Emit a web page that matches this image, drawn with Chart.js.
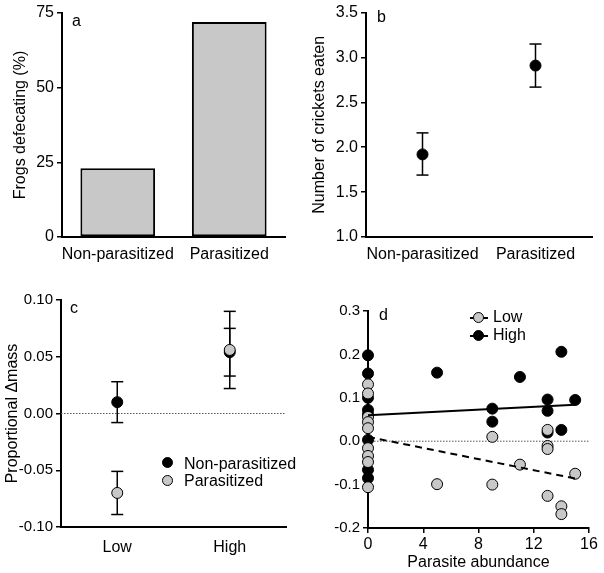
<!DOCTYPE html>
<html>
<head>
<meta charset="utf-8">
<script src="https://cdn.jsdelivr.net/npm/chart.js@4.4.0/dist/chart.umd.min.js"></script>
<style>
  body { margin: 0; background: #fff; font-family: 'Liberation Sans', Arial, sans-serif; }
  #wrap { position: relative; width: 604px; height: 573px; overflow: hidden; }
  .panel { position: absolute; }
  .txt { position: absolute; font-size: 16px; line-height: 16px; color: #000; white-space: nowrap; }
  .dot { position: absolute; width: 11px; height: 11px; border-radius: 50%; box-sizing: border-box; border: 1px solid #000; }
  .dot.black { background: #000; }
  .dot.grey { background: #c8c8c8; }
  .ln { position: absolute; height: 2px; background: #000; }
</style>
</head>
<body>
<div id="wrap">
  <div class="panel" style="left:0;top:0;width:302px;height:280px"><canvas id="chartA"></canvas></div>
  <div class="panel" style="left:302px;top:0;width:302px;height:280px"><canvas id="chartB"></canvas></div>
  <div class="panel" style="left:0;top:280px;width:302px;height:293px"><canvas id="chartC"></canvas></div>
  <div class="panel" style="left:302px;top:280px;width:302px;height:293px"><canvas id="chartD"></canvas></div>

  <div class="txt" style="left:72px;top:13px">a</div>
  <div class="txt" style="left:377px;top:9px">b</div>
  <div class="txt" style="left:70px;top:300px">c</div>
  <div class="txt" style="left:379px;top:307px">d</div>

  <!-- legend c -->
  <div class="dot black" style="left:162px;top:457px"></div>
  <div class="txt" style="left:184px;top:456px">Non-parasitized</div>
  <div class="dot grey" style="left:162px;top:475px"></div>
  <div class="txt" style="left:184px;top:473px">Parasitized</div>

  <!-- legend d -->
  <div class="ln" style="left:470px;top:317px;width:18px"></div>
  <div class="dot grey" style="left:473px;top:312px"></div>
  <div class="txt" style="left:493px;top:309px">Low</div>
  <div class="ln" style="left:470px;top:335px;width:18px"></div>
  <div class="dot black" style="left:473px;top:330px"></div>
  <div class="txt" style="left:493px;top:327px">High</div>
</div>

<script>
"use strict";

// panel a
const groupLabels = ["Non-parasitized", "Parasitized"];
const defecatingPct = [23, 72];

// panel b
const cricketsMean = [1.92, 2.91];
const cricketsLo = [1.69, 2.67];
const cricketsHi = [2.16, 3.15];

// panel c
const densityLabels = ["Low", "High"];
const massNonPar = [0.010, 0.054];
const massNonParLo = [-0.008, 0.033];
const massNonParHi = [0.028, 0.075];
const massPar = [-0.070, 0.056];
const massParLo = [-0.089, 0.022];
const massParHi = [-0.051, 0.090];

// panel d
const lowAbund = [0, 0, 0, 0, 0, 0, 0, 0, 0, 5, 9, 9, 11, 13, 13, 13, 13, 14, 14, 15];
const lowMass = [0.131, 0.110, 0.056, 0.044, 0.030, -0.016, -0.034, -0.048, -0.106,
                 -0.099, 0.010, -0.100, -0.054, 0.026, -0.011, -0.018, -0.126, -0.150, -0.168, -0.075];
const highAbund = [0, 0, 0, 0, 0, 0, 0, 0, 5, 9, 9, 11, 13, 13, 13, 14, 14, 15];
const highMass = [0.198, 0.156, 0.100, 0.072, 0.062, 0.003, -0.066, -0.085,
                  0.158, 0.075, 0.045, 0.148, 0.096, 0.070, 0.020, 0.206, 0.026, 0.095];
const fitX = [0, 15];
const lowFitY = [0.010, -0.086];
const highFitY = [0.060, 0.084];

const FONT = "'Liberation Sans', Arial, sans-serif";
const GREY = "#c8c8c8";
Chart.defaults.font.family = FONT;
Chart.defaults.color = "#000";

const zeroLine = {
  id: "zeroLine",
  beforeDatasetsDraw(chart) {
    const y = chart.scales.y.getPixelForValue(0);
    const area = chart.chartArea;
    const ctx = chart.ctx;
    ctx.save();
    ctx.strokeStyle = "#555";
    ctx.lineWidth = 1;
    ctx.setLineDash([1.5, 1.5]);
    ctx.beginPath();
    ctx.moveTo(area.left, y);
    ctx.lineTo(area.right, y);
    ctx.stroke();
    ctx.restore();
  }
};

function yAxis(opts) {
  return {
    min: opts.min, max: opts.max,
    ticks: { stepSize: opts.step, color: "#000", font: { size: opts.fontSize || 16 }, padding: 3,
             callback: opts.fmt },
    grid: { display: true, drawOnChartArea: false, drawTicks: true, tickLength: 5, color: "#000", lineWidth: 1.5 },
    border: { display: true, color: "#000", width: 2 },
    title: { display: !!opts.title, text: opts.title || "", color: "#000", font: { size: 16 }, padding: 0 },
    afterFit: (s) => { s.width = opts.width; }
  };
}

function catAxis(labels, height, pad) {
  return {
    type: "category", labels: labels, offset: true,
    ticks: { color: "#000", font: { size: 16 }, padding: pad, maxRotation: 0, autoSkip: false },
    grid: { display: false },
    border: { display: true, color: "#000", width: 2 },
    afterFit: (s) => { s.height = height; }
  };
}

function errBar(x, lo, hi) {
  return {
    type: "line",
    data: [{ x: x, y: lo }, { x: x, y: hi }],
    borderColor: "#000", borderWidth: 1.5,
    pointStyle: "line", pointRadius: 6, pointBorderColor: "#000", pointBorderWidth: 1.5,
    clip: false, order: 5
  };
}

const common = {
  responsive: true, maintainAspectRatio: false, animation: false, events: [],
  plugins: { legend: { display: false }, tooltip: { enabled: false } }
};

// a
new Chart(document.getElementById("chartA"), {
  type: "bar",
  data: {
    labels: groupLabels,
    datasets: [{
      data: defecatingPct,
      backgroundColor: GREY, borderColor: "#000", borderWidth: 2, borderSkipped: false,
      barPercentage: 0.67, categoryPercentage: 1
    }]
  },
  options: Object.assign({}, common, {
    layout: { padding: { left: 11, top: 13, right: 17, bottom: 0 } },
    scales: {
      x: catAxis(groupLabels, 43, 0),
      y: yAxis({ min: 0, max: 75, step: 25, title: "Frogs defecating (%)", width: 51 })
    }
  })
});

// b
new Chart(document.getElementById("chartB"), {
  type: "line",
  data: {
    labels: groupLabels,
    datasets: [
      { data: cricketsMean, showLine: false, pointRadius: 5.5, pointBackgroundColor: "#000",
        pointBorderColor: "#000", pointBorderWidth: 1, clip: false, order: 1 }
    ].concat(groupLabels.map((g, i) => errBar(g, cricketsLo[i], cricketsHi[i])))
  },
  options: Object.assign({}, common, {
    layout: { padding: { left: 8, top: 12, right: 12, bottom: 0 } },
    scales: {
      x: catAxis(groupLabels, 43, 0),
      y: yAxis({ min: 1, max: 3.5, step: 0.5, title: "Number of crickets eaten", width: 56,
                 fmt: (v) => v.toFixed(1) })
    }
  })
});

// c
new Chart(document.getElementById("chartC"), {
  type: "line",
  data: {
    labels: densityLabels,
    datasets: [
      { data: massPar, showLine: false, pointRadius: 5.5, pointBackgroundColor: GREY,
        pointBorderColor: "#000", pointBorderWidth: 1, clip: false, order: 1 },
      { data: massNonPar, showLine: false, pointRadius: 5.5, pointBackgroundColor: "#000",
        pointBorderColor: "#000", pointBorderWidth: 1, clip: false, order: 2 }
    ].concat(densityLabels.map((g, i) => errBar(g, massNonParLo[i], massNonParHi[i])))
     .concat(densityLabels.map((g, i) => errBar(g, massParLo[i], massParHi[i])))
  },
  options: Object.assign({}, common, {
    layout: { padding: { left: 3, top: 20, right: 16, bottom: 0 } },
    scales: {
      x: catAxis(densityLabels, 46, 3),
      y: yAxis({ min: -0.1, max: 0.1, step: 0.05, title: "Proportional \u0394mass", width: 58, fontSize: 15,
                 fmt: (v) => { const r = Math.round(v * 100) / 100; return (r === 0 ? 0 : r).toFixed(2); } })
    }
  }),
  plugins: [zeroLine]
});

// d
const toPts = (xs, ys) => xs.map((x, i) => ({ x: x, y: ys[i] }));
new Chart(document.getElementById("chartD"), {
  type: "scatter",
  data: {
    datasets: [
      { type: "line", data: toPts(fitX, highFitY), borderColor: "#000", borderWidth: 2,
        pointRadius: 0, clip: false, order: 1 },
      { type: "line", data: toPts(fitX, lowFitY), borderColor: "#000", borderWidth: 2,
        borderDash: [7, 5], pointRadius: 0, clip: false, order: 2 },
      { data: toPts(lowAbund, lowMass), pointRadius: 5.5, pointBackgroundColor: GREY,
        pointBorderColor: "#000", pointBorderWidth: 1, clip: false, order: 3 },
      { data: toPts(highAbund, highMass), pointRadius: 5.5, pointBackgroundColor: "#000",
        pointBorderColor: "#000", pointBorderWidth: 1, clip: false, order: 4 }
    ]
  },
  options: Object.assign({}, common, {
    layout: { padding: { left: 0, top: 31, right: 15, bottom: 0 } },
    scales: {
      x: {
        type: "linear", min: 0, max: 16,
        ticks: { stepSize: 4, color: "#000", font: { size: 16 }, padding: 2, maxRotation: 0 },
        grid: { display: true, drawOnChartArea: false, drawTicks: true, tickLength: 5, color: "#000", lineWidth: 1.5 },
        border: { display: true, color: "#000", width: 2 },
        title: { display: true, text: "Parasite abundance", color: "#000", font: { size: 16 },
                 padding: { top: 0, bottom: 1 } },
        afterFit: (s) => { s.height = 45; }
      },
      y: yAxis({ min: -0.2, max: 0.3, step: 0.1, width: 66, fontSize: 15,
                 fmt: (v) => { const r = Math.round(v * 10) / 10; return (r === 0 ? 0 : r).toFixed(1); } })
    }
  }),
  plugins: [zeroLine]
});
</script>
</body>
</html>
